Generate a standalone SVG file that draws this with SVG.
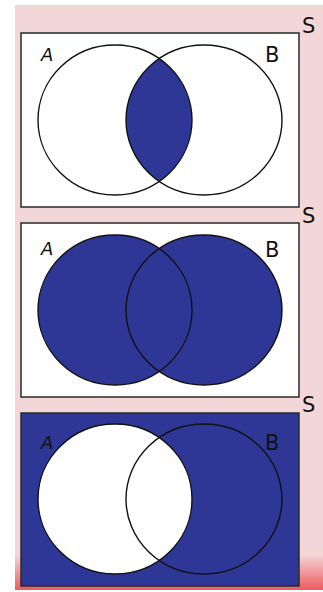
<svg xmlns="http://www.w3.org/2000/svg" width="323" height="592" viewBox="0 0 323 592">
<style>
.box{stroke:#2a2a2a;stroke-width:1.5}
.ring{fill:none;stroke:#111;stroke-width:1.4}
.lbl{font-family:"DejaVu Sans","Liberation Sans",sans-serif;fill:#111}
</style>
<defs>
<linearGradient id="bg" x1="0" y1="0" x2="0" y2="1">
<stop offset="0" stop-color="#F3D6D7"/>
<stop offset="0.94" stop-color="#F3D6D7"/>
<stop offset="1" stop-color="#EE5A5E"/>
</linearGradient>
<clipPath id="clipB1"><ellipse cx="204" cy="120" rx="78" ry="75"/></clipPath>
</defs>
<rect x="15" y="5" width="308" height="585" fill="url(#bg)"/>

<g id="panel1">
<rect class="box" x="21" y="33" width="278" height="174" fill="#fff"/>
<ellipse cx="115" cy="120" rx="77" ry="75" fill="#2E3796" clip-path="url(#clipB1)"/>
<ellipse class="ring" cx="115" cy="120" rx="77" ry="75"/>
<ellipse class="ring" cx="204" cy="120" rx="78" ry="75"/>
<text class="lbl" x="41" y="61" font-size="18" font-style="italic">A</text>
<text class="lbl" x="265" y="62" font-size="21">B</text>
<text class="lbl" x="302" y="33" font-size="21">S</text>
</g>

<g id="panel2">
<rect class="box" x="21" y="223" width="278" height="174" fill="#fff"/>
<ellipse cx="115" cy="310" rx="77" ry="75" fill="#2E3796"/>
<ellipse cx="204" cy="310" rx="78" ry="75" fill="#2E3796"/>
<ellipse class="ring" cx="115" cy="310" rx="77" ry="75"/>
<ellipse class="ring" cx="204" cy="310" rx="78" ry="75"/>
<text class="lbl" x="41" y="255" font-size="18" font-style="italic">A</text>
<text class="lbl" x="265" y="257" font-size="21">B</text>
<text class="lbl" x="302" y="223" font-size="21">S</text>
</g>

<g id="panel3">
<rect class="box" x="21" y="413" width="278" height="173" fill="#2E3796"/>
<ellipse cx="115" cy="499" rx="77" ry="75" fill="#fff"/>
<ellipse class="ring" cx="115" cy="499" rx="77" ry="75"/>
<ellipse class="ring" cx="204" cy="499" rx="78" ry="75"/>
<text class="lbl" x="41" y="449" font-size="18" font-style="italic">A</text>
<text class="lbl" x="265" y="450" font-size="21">B</text>
<text class="lbl" x="302" y="412" font-size="21">S</text>
</g>
</svg>
